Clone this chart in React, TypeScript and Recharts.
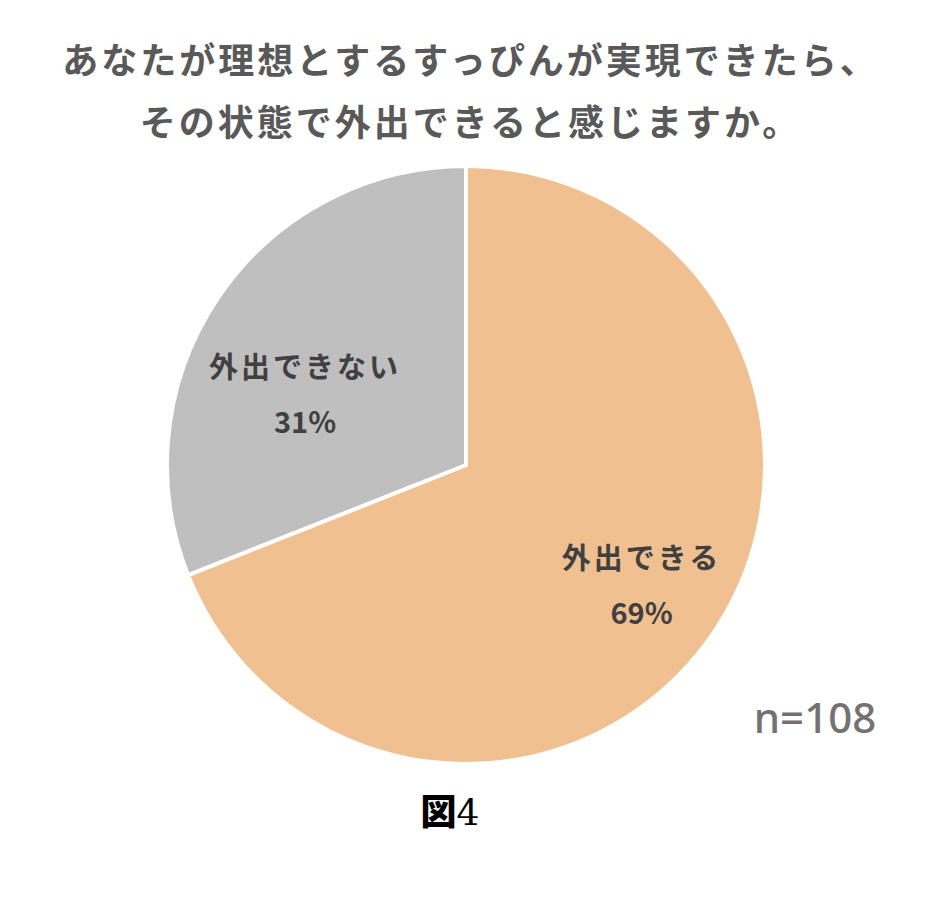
import { PieChart, Pie, Cell } from "recharts";

const categories = ["外出できる", "外出できない"];
const shares = [69, 31];
const COLORS = ["#F0C090", "#BFBFBF"];
const titleLines = [
  "あなたが理想とするすっぴんが実現できたら、",
  "その状態で外出できると感じますか。",
];
const sampleNote = "n=108";
const figureLabel = "図4";

const data = categories.map((name, i) => ({ name, value: shares[i] }));

const RAD = Math.PI / 180;

function renderLabel(props: any) {
  const { cx, cy, midAngle, outerRadius, percent, name, value } = props;
  const small = percent < 0.5;
  const r = outerRadius * (small ? 0.59 : 0.71);
  const a = (midAngle + (small ? 10 : 0)) * RAD;
  const x = cx + r * Math.cos(a);
  const y = cy - r * Math.sin(a);
  return (
    <g>
      <text
        x={x}
        y={y - 28}
        textAnchor="middle"
        dominantBaseline="central"
        fill="#404040"
        fontSize={29}
        fontWeight={700}
        letterSpacing={3}
        fontFamily="'Noto Sans CJK JP', sans-serif"
      >
        {name}
      </text>
      <text
        x={x}
        y={y + 27}
        textAnchor="middle"
        dominantBaseline="central"
        fill="#404040"
        fontSize={29}
        fontWeight={700}
        fontFamily="'Noto Sans CJK JP', sans-serif"
      >
        {value}%
      </text>
    </g>
  );
}

export default function App() {
  return (
    <div
      style={{
        position: "absolute",
        left: 0,
        top: 0,
        width: 937,
        height: 903,
        background: "#fff",
        overflow: "hidden",
      }}
    >
      <PieChart
        width={937}
        height={903}
        margin={{ top: 0, right: 0, bottom: 0, left: 0 }}
      >
        <Pie
          data={data}
          dataKey="value"
          cx={466}
          cy={465}
          outerRadius={299}
          startAngle={90}
          endAngle={-270}
          stroke="#fff"
          strokeWidth={4}
          label={renderLabel}
          labelLine={false}
          isAnimationActive={false}
        >
          {data.map((_d, i) => (
            <Cell key={i} fill={COLORS[i % COLORS.length]} />
          ))}
        </Pie>
      </PieChart>
      {titleLines.map((line, i) => (
        <div
          key={i}
          style={{
            position: "absolute",
            left: 2,
            width: 937,
            top: 34 + i * 62,
            textAlign: "center",
            fontFamily: "'Noto Sans CJK JP', sans-serif",
            fontSize: 36,
            fontWeight: 700,
            letterSpacing: 3,
            color: "#595959",
            lineHeight: "48px",
            whiteSpace: "nowrap",
          }}
        >
          {line}
        </div>
      ))}
      <div
        style={{
          position: "absolute",
          left: 740,
          width: 150,
          top: 690,
          textAlign: "center",
          fontFamily: "'Noto Sans', sans-serif",
          fontSize: 42,
          fontWeight: 500,
          color: "#767171",
          lineHeight: "54px",
        }}
      >
        {sampleNote}
      </div>
      <div
        style={{
          position: "absolute",
          left: 350,
          width: 200,
          top: 785,
          textAlign: "center",
          fontFamily: "'DejaVu Serif', serif",
          fontSize: 36,
          color: "#000",
          lineHeight: "48px",
        }}
      >
        <span style={{ fontWeight: 900, fontFamily: "'Noto Sans CJK JP', sans-serif" }}>
          {figureLabel.slice(0, 1)}
        </span>
        <span style={{ fontWeight: 400 }}>{figureLabel.slice(1)}</span>
      </div>
    </div>
  );
}
